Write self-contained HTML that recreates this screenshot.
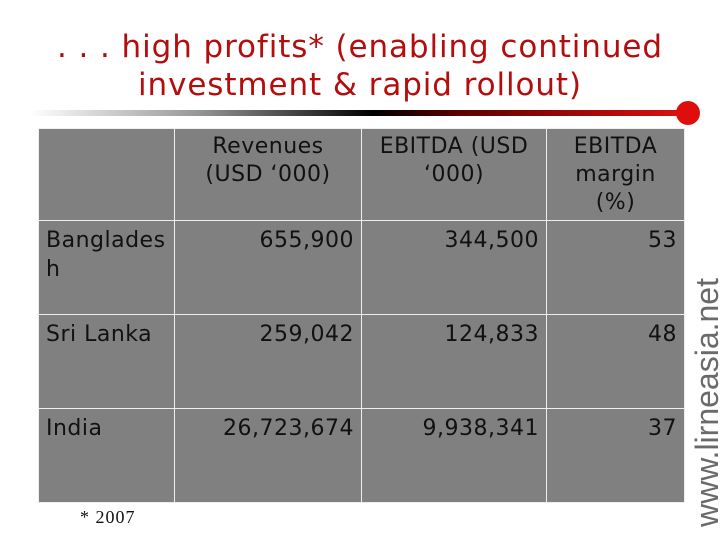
<!DOCTYPE html>
<html><head><meta charset="utf-8"><style>
body{margin:0;width:720px;height:540px;background:#fff;position:relative;overflow:hidden;font-family:"DejaVu Sans","Liberation Sans",sans-serif}
.title{position:absolute;left:0;width:720px;top:28px;text-align:center;color:#b30d0d;font-size:31px;line-height:38px;letter-spacing:0.9px}
.bar{position:absolute;left:30px;top:110px;width:660px;height:6px;background:linear-gradient(to right,#fff 0%,#999 25%,#000 52%,#5a0000 65%,#e01010 100%)}
.dot{position:absolute;left:676px;top:101px;width:24px;height:24px;border-radius:50%;background:#e00d0d}
table{position:absolute;left:38px;top:128px;border-collapse:collapse;font-size:22px;letter-spacing:0.5px;color:#111}
td{background:#808080;border:1px solid #eee;padding:0;vertical-align:top}
.h td{height:92px;text-align:center;padding-top:4px;line-height:28px;box-sizing:border-box}
.r td{height:94px;padding-top:5px;box-sizing:border-box;line-height:29px}
td.n{text-align:right;padding-right:7px}
td.c{padding-left:7px}
.wm{position:absolute;left:689px;top:527px;transform:rotate(-90deg);transform-origin:0 0;font-size:32px;color:#6a6a6a;font-family:"Liberation Sans",sans-serif;white-space:nowrap}
.note{position:absolute;left:80px;top:507px;font-family:"Liberation Serif",serif;font-size:18px;letter-spacing:1px;color:#111}
</style></head><body>
<div class="title">. . . high profits* (enabling continued<br>investment &amp; rapid rollout)</div>
<div class="bar"></div>
<div class="dot"></div>
<table>
<tr class="h"><td style="width:136px"></td><td style="width:187px">Revenues<br>(USD ‘000)</td><td style="width:185px">EBITDA (USD<br>‘000)</td><td style="width:138px">EBITDA<br>margin<br>(%)</td></tr>
<tr class="r"><td class="c">Banglades<br>h</td><td class="n">655,900</td><td class="n">344,500</td><td class="n">53</td></tr>
<tr class="r"><td class="c">Sri Lanka</td><td class="n">259,042</td><td class="n">124,833</td><td class="n">48</td></tr>
<tr class="r"><td class="c" style="height:92px">India</td><td class="n">26,723,674</td><td class="n">9,938,341</td><td class="n">37</td></tr>
</table>
<div class="wm">www.lirneasia.net</div>
<div class="note">* 2007</div>
</body></html>
